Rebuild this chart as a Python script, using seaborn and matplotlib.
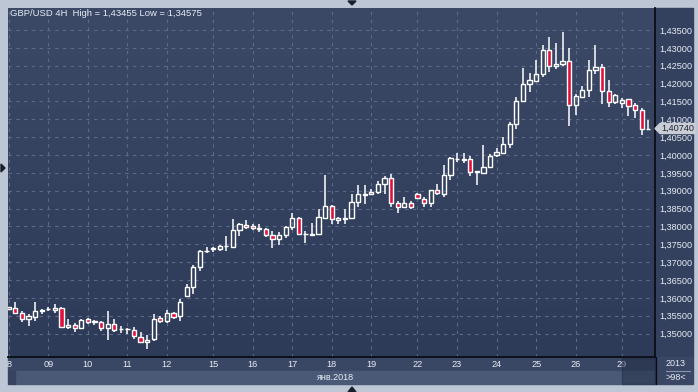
import numpy as np
import pandas as pd
import matplotlib
matplotlib.use("Agg")
import matplotlib.pyplot as plt
from matplotlib.patches import Rectangle, Polygon
import seaborn as sns

# GBP/USD 4H candles
opens = [1.35691, 1.35728, 1.35588, 1.35411, 1.35467, 1.35635, 1.35680, 1.35672, 1.35728, 1.35187,
         1.35234, 1.35159, 1.35402, 1.35336, 1.35336, 1.35159, 1.35280, 1.35121, 1.35121, 1.35112,
         1.34916, 1.34776, 1.34841, 1.35430, 1.35364, 1.35588, 1.35504, 1.36055, 1.36317, 1.36877,
         1.37310, 1.37363, 1.37373, 1.37440, 1.37429, 1.37887, 1.38046, 1.37999, 1.37915, 1.37915,
         1.37747, 1.37635, 1.37747, 1.37971, 1.38223, 1.37793, 1.37765, 1.37793, 1.38242, 1.38559,
         1.38186, 1.38220, 1.38223, 1.38671, 1.38890, 1.38896, 1.38952, 1.39176, 1.39344, 1.38643,
         1.38550, 1.38643, 1.38896, 1.38774, 1.38643, 1.39017, 1.38914, 1.39428, 1.39890, 1.39870,
         1.39877, 1.39530, 1.39503, 1.39652, 1.39989, 1.40063, 1.40297, 1.40858, 1.41502, 1.41979,
         1.42081, 1.42259, 1.42932, 1.42483, 1.42539, 1.42623, 1.41409, 1.41633, 1.41811, 1.42371,
         1.42455, 1.41783, 1.41474, 1.41456, 1.41558, 1.41390, 1.41250, 1.40728]
highs = [1.35750, 1.35878, 1.35644, 1.35560, 1.35878, 1.35682, 1.35738, 1.35822, 1.35756, 1.35420,
         1.35308, 1.35420, 1.35439, 1.35383, 1.35355, 1.35626, 1.35402, 1.35224, 1.35159, 1.35177,
         1.35056, 1.34972, 1.35560, 1.35504, 1.35654, 1.35607, 1.35962, 1.36401, 1.36933, 1.37354,
         1.37428, 1.37419, 1.37485, 1.37719, 1.38204, 1.38092, 1.38176, 1.38055, 1.38055, 1.37952,
         1.37877, 1.37849, 1.38018, 1.38363, 1.38260, 1.37868, 1.38092, 1.38485, 1.39438, 1.38587,
         1.38251, 1.38485, 1.38905, 1.39148, 1.39157, 1.39055, 1.39269, 1.39410, 1.39466, 1.38709,
         1.38812, 1.38718, 1.38942, 1.38821, 1.39017, 1.39185, 1.39708, 1.39951, 1.40054, 1.40054,
         1.39970, 1.39559, 1.40278, 1.40017, 1.40185, 1.40503, 1.40914, 1.41624, 1.42436, 1.42296,
         1.42661, 1.43081, 1.43305, 1.43141, 1.43455, 1.43000, 1.41717, 1.41932, 1.42661, 1.43085,
         1.42549, 1.42100, 1.41708, 1.41605, 1.41577, 1.41446, 1.41306, 1.40979]
lows = [1.35680, 1.35551, 1.35327, 1.35205, 1.35355, 1.35551, 1.35626, 1.35579, 1.35149, 1.35131,
        1.35047, 1.35150, 1.35271, 1.35234, 1.35075, 1.34832, 1.35047, 1.35019, 1.35000, 1.34860,
        1.34738, 1.34575, 1.34794, 1.35299, 1.35299, 1.35411, 1.35355, 1.36027, 1.36111, 1.36765,
        1.37260, 1.37298, 1.37326, 1.37326, 1.37401, 1.37737, 1.37915, 1.37896, 1.37831, 1.37709,
        1.37410, 1.37494, 1.37690, 1.37887, 1.37756, 1.37532, 1.37747, 1.37775, 1.38214, 1.38064,
        1.38055, 1.38055, 1.38204, 1.38550, 1.38634, 1.38877, 1.38905, 1.38905, 1.38550, 1.38382,
        1.38531, 1.38494, 1.38756, 1.38550, 1.38550, 1.38886, 1.38830, 1.39297, 1.39811, 1.39783,
        1.39419, 1.39167, 1.39456, 1.39634, 1.39951, 1.40036, 1.40204, 1.40736, 1.41484, 1.41766,
        1.42035, 1.42194, 1.42334, 1.42418, 1.42502, 1.40811, 1.41119, 1.41605, 1.41624, 1.42278,
        1.41437, 1.41353, 1.41418, 1.41325, 1.41101, 1.41044, 1.40559, 1.40689]
closes = [1.35738, 1.35588, 1.35420, 1.35486, 1.35644, 1.35672, 1.35690, 1.35719, 1.35187, 1.35252,
          1.35168, 1.35392, 1.35336, 1.35340, 1.35168, 1.35280, 1.35103, 1.35125, 1.35120, 1.34925,
          1.34776, 1.34832, 1.35420, 1.35364, 1.35588, 1.35476, 1.35897, 1.36317, 1.36877, 1.37326,
          1.37320, 1.37400, 1.37448, 1.37445, 1.37887, 1.38064, 1.37980, 1.37943, 1.37952, 1.37747,
          1.37635, 1.37747, 1.37971, 1.38223, 1.37775, 1.37797, 1.37793, 1.38251, 1.38559, 1.38195,
          1.38223, 1.38230, 1.38671, 1.38896, 1.38900, 1.38961, 1.39195, 1.39344, 1.38643, 1.38531,
          1.38643, 1.38531, 1.38784, 1.38643, 1.39008, 1.38924, 1.39428, 1.39923, 1.39900, 1.39880,
          1.39531, 1.39540, 1.39652, 1.39970, 1.40073, 1.40297, 1.40858, 1.41502, 1.41979, 1.42091,
          1.42259, 1.42932, 1.42483, 1.42549, 1.42623, 1.41409, 1.41642, 1.41811, 1.42371, 1.42455,
          1.41783, 1.41474, 1.41680, 1.41540, 1.41362, 1.41250, 1.40718, 1.40740]

day_labels = ["8", "09", "10", "11", "12", "15", "16", "17", "18", "19", "22", "23", "24", "25", "26", "29"]
day_pos = [0, 6, 12, 18, 24, 31, 37, 43, 49, 55, 62, 68, 74, 80, 86, 93]
price_ticks = [1.350, 1.355, 1.360, 1.365, 1.370, 1.375, 1.380, 1.385, 1.390, 1.395,
               1.400, 1.405, 1.410, 1.415, 1.420, 1.425, 1.430, 1.435]
last_price = 1.40740

df = pd.DataFrame({"open": opens, "high": highs, "low": lows, "close": closes})
df["idx"] = np.arange(len(df))
df["top"] = df[["open", "close"]].max(axis=1)
df["bot"] = df[["open", "close"]].min(axis=1)
df["down"] = df["close"] < df["open"]

sns.set_style("dark")
plt.rcParams['font.family'] = ['Liberation Sans', 'DejaVu Sans']

W, H = 698, 392
BG_TOP = "#3c4966"
BG_BOT = "#2e3b58"
RED = "#e0103c"
TXT = "#e6ecf5"


def box(x0, y0, x1, y1):
    return [x0 / W, 1 - y1 / H, (x1 - x0) / W, (y1 - y0) / H]


fig = plt.figure(figsize=(W / 100, H / 100), dpi=100)
fig.patch.set_facecolor("#bcc6d4")

# panel backgrounds in pixel coords
bg = fig.add_axes([0, 0, 1, 1])
bg.set_xlim(0, W)
bg.set_ylim(H, 0)
bg.axis("off")
bg.add_patch(Rectangle((655, 8), 38, 349, color="#34415e"))
bg.add_patch(Rectangle((8, 357), 647, 14, color="#3a4764"))
bg.add_patch(Rectangle((15, 371), 640, 13, color="#4a5976"))
bg.add_patch(Rectangle((8, 371), 7, 13, color="#37435f"))
bg.add_patch(Rectangle((655, 357), 38, 27, color="#3a4764"))
bg.plot([666, 690], [370.5, 370.5], color="#8a97ad", lw=0.8)
bg.text(676, 364, "2013", color=TXT, fontsize=6.5, ha="center", va="center")
bg.text(676, 377.5, ">98<", color=TXT, fontsize=6.5, ha="center", va="center")
bg.text(335, 377, "янв.2018", color=TXT, fontsize=6.5, ha="center", va="center")
bg.add_patch(Polygon([(348, 1), (356, 1), (352, 5)], color="#1a1f2a"))
bg.add_patch(Polygon([(1, 164), (1, 172), (5, 168)], color="#1a1f2a"))
bg.add_patch(Polygon([(348, 392), (356, 392), (352, 387)], color="#1a1f2a"))

# main chart
ax = fig.add_axes(box(8, 8, 655, 357))
xlim = (-0.11, 98.03)
ylim = (1.34344, 1.44117)
grad = np.linspace(0, 1, 256).reshape(-1, 1)
cmap = matplotlib.colors.LinearSegmentedColormap.from_list("bg", [BG_TOP, BG_BOT])
ax.imshow(grad, extent=(xlim[0], xlim[1], ylim[0], ylim[1]), cmap=cmap,
          aspect="auto", origin="upper", zorder=0)
ax.set_xlim(*xlim)
ax.set_ylim(*ylim)

for p in price_ticks:
    ax.axhline(p, color="#5a6a8a", lw=0.8, ls=(0, (3, 4)), zorder=1)
for d in day_pos:
    ax.axvline(d, color="#5a6a8a", lw=0.8, ls=(0, (3, 4)), zorder=1)

ax.vlines(df["idx"], df["low"], df["bot"], color="white", lw=1.1, zorder=2)
ax.vlines(df["idx"], df["top"], df["high"], color="white", lw=1.1, zorder=2)
heights = (df["top"] - df["bot"]).clip(lower=0.00004)
faces = [RED if d else "none" for d in df["down"]]
ax.bar(df["idx"], heights, bottom=df["bot"], width=0.64, color=faces,
       edgecolor="white", linewidth=1.0, zorder=3)

ax.yaxis.tick_right()
ax.set_yticks(price_ticks)
ax.set_yticklabels([f"{p:.5f}".replace(".", ",") for p in price_ticks])
ax.set_xticks(day_pos)
ax.set_xticklabels(day_labels)
ax.tick_params(axis="y", length=0, pad=3, labelsize=6.6, labelcolor=TXT)
ax.tick_params(axis="x", length=0, pad=2.5, labelsize=6.6, labelcolor=TXT)
ax.grid(False)
for s in ["left", "top"]:
    ax.spines[s].set_visible(False)
for s in ["right", "bottom"]:
    ax.spines[s].set_color("#0a0d14")
    ax.spines[s].set_linewidth(1.3)

# overlay: title, last price tag, scroll box
ov = fig.add_axes([0, 0, 1, 1])
ov.set_xlim(0, W)
ov.set_ylim(H, 0)
ov.axis("off")
ov.patch.set_alpha(0)
ov.text(10, 13.5, "GBP/USD 4H  High = 1,43455 Low = 1,34575", color=TXT,
        fontsize=6.8, ha="left", va="center")
ov.add_patch(Rectangle((622, 358), 33, 26, color="#1e2940", alpha=0.45))
ov.plot([655.5, 655.5], [357, 384], color="#0a0d14", lw=1.0)
y_tag = 128.5
ov.add_patch(Polygon([(655, y_tag), (660, y_tag - 5), (695, y_tag - 5),
                      (695, y_tag + 5), (660, y_tag + 5)], color="#c9ced6"))
ov.text(677.5, y_tag, f"{last_price:.5f}".replace(".", ","), color="#1c2330",
        fontsize=6.6, ha="center", va="center")

fig.savefig("out.png", dpi=100, facecolor=fig.get_facecolor())
